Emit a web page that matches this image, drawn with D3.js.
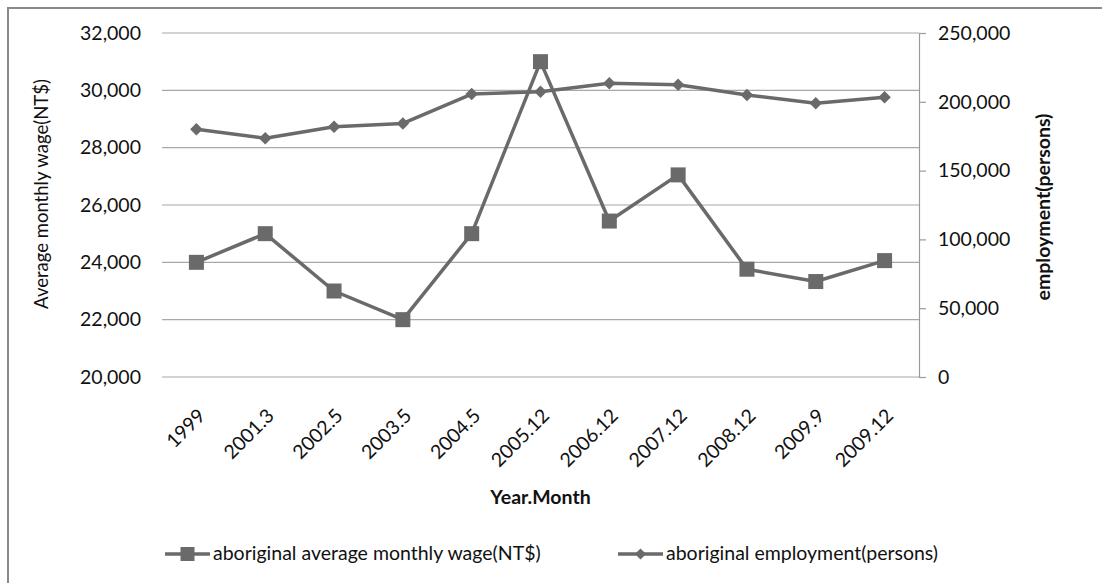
<!DOCTYPE html>
<html>
<head>
<meta charset="utf-8">
<script src="https://cdn.jsdelivr.net/npm/d3@7"></script>
<style>
  html, body { margin: 0; padding: 0; background: #fff; }
  svg { display: block; }
  text { font-family: Lato, "Open Sans", sans-serif; fill: #111; }
</style>
</head>
<body>
<svg id="chart" width="1102" height="583"></svg>
<script>
// Periods (year.month)
const periods = ["1999", "2001.3", "2002.5", "2003.5", "2004.5", "2005.12",
                 "2006.12", "2007.12", "2008.12", "2009.9", "2009.12"];
// Aboriginal average monthly wage (NT$)
const wage = [24000, 25000, 23000, 22000, 25000, 31000, 25440, 27050, 23760, 23330, 24060];
// Aboriginal employment (persons)
const employment = [180000, 173500, 181900, 184300, 205600, 207300, 213400, 212400, 205000, 199000, 203300];
// Axis ticks
const wageTicks = [20000, 22000, 24000, 26000, 28000, 30000, 32000];
const employmentTicks = [0, 50000, 100000, 150000, 200000, 250000];

const svg = d3.select("#chart");
const W = 1102, H = 583;
const plot = { left: 162, right: 919, top: 33, bottom: 377 };
const lineColor = "#6a6a6a";
const fmt = d3.format(",");
const tickFont = "19.5px";

// outer frame
svg.append("rect").attr("x", 8).attr("y", 8).attr("width", W).attr("height", H)
  .attr("fill", "#fff").attr("stroke", "#8a8a8a").attr("stroke-width", 2);

const x = d3.scaleBand().domain(periods).range([plot.left, plot.right]);
const yL = d3.scaleLinear().domain([20000, 32000]).range([plot.bottom, plot.top]);
const yR = d3.scaleLinear().domain([0, 250000]).range([plot.bottom, plot.top]);
const cx = d => x(d) + x.bandwidth() / 2;

// horizontal gridlines
svg.append("g").selectAll("line").data(wageTicks).join("line")
  .attr("x1", plot.left).attr("x2", plot.right)
  .attr("y1", d => yL(d)).attr("y2", d => yL(d))
  .attr("stroke", "#a8a8a8").attr("stroke-width", 1.2);

// left axis labels
const leftAxis = svg.append("g").attr("transform", `translate(${plot.left},0)`)
  .call(d3.axisLeft(yL).tickValues(wageTicks).tickFormat(fmt).tickSize(0).tickPadding(21));
leftAxis.select(".domain").remove();
leftAxis.selectAll("text").style("font-size", tickFont).style("font-family", "Lato, 'Open Sans', sans-serif").attr("fill", "#111");

// right axis
const rightAxis = svg.append("g").attr("transform", `translate(${plot.right},0)`)
  .call(d3.axisRight(yR).tickValues(employmentTicks).tickFormat(fmt).tickSize(7).tickPadding(12).tickSizeOuter(0));
rightAxis.select(".domain").attr("stroke", "#9a9a9a").attr("stroke-width", 1.2);
rightAxis.selectAll(".tick line").attr("stroke", "#9a9a9a").attr("stroke-width", 1.2);
rightAxis.selectAll("text").style("font-size", tickFont).style("font-family", "Lato, 'Open Sans', sans-serif").attr("fill", "#111");

// bottom category labels, rotated
const bottomAxis = svg.append("g").attr("transform", `translate(0,${plot.bottom})`)
  .call(d3.axisBottom(x).tickSize(0).tickPadding(0));
bottomAxis.select(".domain").remove();
bottomAxis.selectAll("text")
  .style("font-size", tickFont).style("font-family", "Lato, 'Open Sans', sans-serif").attr("fill", "#111")
  .attr("text-anchor", "end")
  .attr("dy", "0")
  .attr("transform", "translate(10,40) rotate(-45)");

// axis titles
svg.append("text").attr("transform", "translate(48,194) rotate(-90)")
  .attr("text-anchor", "middle").style("font-size", "18.5px")
  .text("Average monthly wage(NT$)");
svg.append("text").attr("transform", "translate(1050,207) rotate(-90)")
  .attr("text-anchor", "middle").style("font-size", "19.5px").style("font-weight", "bold")
  .text("employment(persons)");
svg.append("text").attr("x", (plot.left + plot.right) / 2).attr("y", 504)
  .attr("text-anchor", "middle").style("font-size", "19.5px").style("font-weight", "bold")
  .text("Year.Month");

// employment line with diamonds
const empLine = d3.line().x((d, i) => cx(periods[i])).y(d => yR(d));
svg.append("path").datum(employment).attr("d", empLine)
  .attr("fill", "none").attr("stroke", lineColor).attr("stroke-width", 3.5).attr("stroke-linejoin", "round");
const diamond = d3.symbol().type(d3.symbolDiamond2).size(100);
svg.append("g").selectAll("path").data(employment).join("path")
  .attr("d", diamond)
  .attr("transform", (d, i) => `translate(${cx(periods[i])},${yR(d)})`)
  .attr("fill", lineColor);

// wage line with squares
const wageLine = d3.line().x((d, i) => cx(periods[i])).y(d => yL(d));
svg.append("path").datum(wage).attr("d", wageLine)
  .attr("fill", "none").attr("stroke", lineColor).attr("stroke-width", 3.5).attr("stroke-linejoin", "round");
svg.append("g").selectAll("rect").data(wage).join("rect")
  .attr("x", (d, i) => cx(periods[i]) - 7.5).attr("y", d => yL(d) - 7.5)
  .attr("width", 15).attr("height", 15)
  .attr("fill", lineColor);

// legend
const legend = [
  { label: "aboriginal average monthly wage(NT$)", marker: "square", x0: 165 },
  { label: "aboriginal employment(persons)", marker: "diamond", x0: 618 }
];
const ly = 554;
legend.forEach(item => {
  const g = svg.append("g");
  g.append("line").attr("x1", item.x0).attr("x2", item.x0 + 45).attr("y1", ly).attr("y2", ly)
    .attr("stroke", lineColor).attr("stroke-width", 3.5);
  if (item.marker === "square") {
    g.append("rect").attr("x", item.x0 + 22.5 - 7).attr("y", ly - 7).attr("width", 14).attr("height", 14).attr("fill", lineColor);
  } else {
    g.append("path").attr("d", d3.symbol().type(d3.symbolDiamond2).size(80)())
      .attr("transform", `translate(${item.x0 + 22.5},${ly})`).attr("fill", lineColor);
  }
  g.append("text").attr("x", item.x0 + 48).attr("y", ly + 6).style("font-size", "19.5px").text(item.label);
});
</script>
</body>
</html>
